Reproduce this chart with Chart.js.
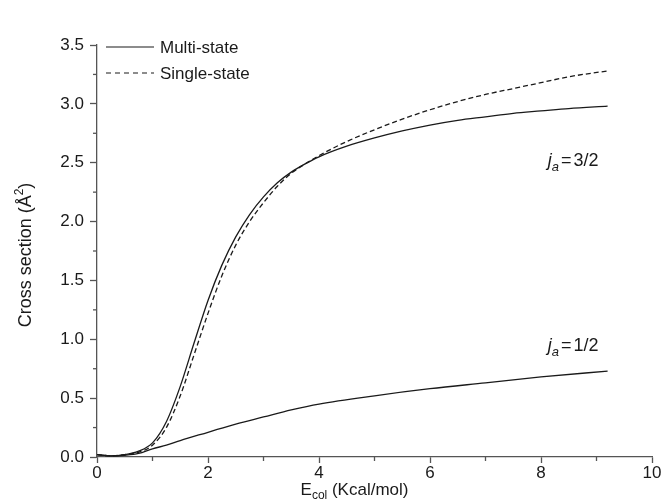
<!DOCTYPE html>
<html>
<head>
<meta charset="utf-8">
<script src="https://cdn.jsdelivr.net/npm/chart.js@4/dist/chart.umd.min.js"></script>
<style>
  html, body { margin: 0; padding: 0; background: #fff; }
  #wrap { width: 666px; height: 500px; }
</style>
</head>
<body>
<div id="wrap"><canvas id="myChart" width="666" height="500"></canvas></div>
<script>
// values
const eUpper = [0, 0.25, 0.5, 0.75, 1.0, 1.25, 1.5, 1.75, 2.0, 2.25, 2.5, 2.75, 3.0, 3.25, 3.5, 3.75, 4.0, 4.5, 5.0, 5.5, 6.0, 6.5, 7.0, 7.5, 8.0, 8.5, 9.2];
const multi32 = [0.02, 0.01, 0.02, 0.05, 0.12, 0.3, 0.6, 0.97, 1.33, 1.63, 1.87, 2.06, 2.21, 2.33, 2.42, 2.49, 2.55, 2.64, 2.71, 2.77, 2.82, 2.86, 2.89, 2.92, 2.94, 2.96, 2.98];
const single32 = [0.02, 0.01, 0.02, 0.04, 0.1, 0.25, 0.52, 0.87, 1.22, 1.54, 1.8, 2.0, 2.16, 2.3, 2.41, 2.49, 2.56, 2.68, 2.78, 2.87, 2.95, 3.02, 3.08, 3.13, 3.18, 3.23, 3.28];

const eLower = [0, 0.25, 0.5, 0.75, 1.0, 1.25, 1.5, 2.0, 2.5, 3.0, 3.5, 4.0, 5.0, 6.0, 7.0, 8.0, 9.2];
const multi12 = [0.02, 0.01, 0.015, 0.03, 0.07, 0.1, 0.14, 0.21, 0.28, 0.34, 0.4, 0.45, 0.52, 0.58, 0.63, 0.68, 0.73];

const xTicks = [0, 2, 4, 6, 8, 10];
const yTicks = [0, 0.5, 1, 1.5, 2, 2.5, 3, 3.5];
const legendNames = ['Multi-state', 'Single-state'];
const notes = [
  {x: 8.12, y: 2.47, val: '3/2'},
  {x: 8.12, y: 0.9, val: '1/2'}
];

const FONT = '"Liberation Sans", Arial, sans-serif';
const INK = '#1a1a1a';

function pts(xs, ys) {
  return xs.map((x, i) => ({x: x, y: ys[i]}));
}

// minor ticks, axis titles, legend and labels
const extras = {
  id: 'extras',
  afterDraw(chart) {
    const ctx = chart.ctx;
    const xs = chart.scales.x, ys = chart.scales.y;
    const area = chart.chartArea;
    ctx.save();
    ctx.strokeStyle = '#555';
    ctx.lineWidth = 1.3;
    // minor ticks
    for (let v = 1; v < 10; v += 2) {
      let px = xs.getPixelForValue(v);
      ctx.beginPath(); ctx.moveTo(px, area.bottom); ctx.lineTo(px, area.bottom + 4); ctx.stroke();
    }
    for (let v = 0.25; v < 3.5; v += 0.5) {
      let py = ys.getPixelForValue(v);
      ctx.beginPath(); ctx.moveTo(area.left, py); ctx.lineTo(area.left - 4, py); ctx.stroke();
    }

    ctx.fillStyle = INK;
    // x title
    ctx.textBaseline = 'alphabetic';
    ctx.font = '17px ' + FONT;
    let cx = (area.left + area.right) / 2 - 20;
    let ty = 495;
    let w1 = ctx.measureText('E').width;
    ctx.font = '12px ' + FONT;
    let w2 = ctx.measureText('col').width;
    ctx.font = '17px ' + FONT;
    let w3 = ctx.measureText(' (Kcal/mol)').width;
    let sx = cx - (w1 + w2 + w3) / 2;
    ctx.textAlign = 'left';
    ctx.fillText('E', sx, ty);
    ctx.font = '12px ' + FONT;
    ctx.fillText('col', sx + w1, ty + 4);
    ctx.font = '17px ' + FONT;
    ctx.fillText(' (Kcal/mol)', sx + w1 + w2, ty);

    // y title
    ctx.save();
    ctx.translate(31, 255);
    ctx.rotate(-Math.PI / 2);
    ctx.font = '18px ' + FONT;
    let a = ctx.measureText('Cross section (Å').width;
    ctx.font = '12px ' + FONT;
    let b = ctx.measureText('2').width;
    ctx.font = '18px ' + FONT;
    let c = ctx.measureText(')').width;
    let s = -(a + b + c) / 2;
    ctx.fillText('Cross section (Å', s, 0);
    ctx.font = '12px ' + FONT;
    ctx.fillText('2', s + a, -8);
    ctx.font = '18px ' + FONT;
    ctx.fillText(')', s + a + b, 0);
    ctx.restore();

    // legend
    const lx = area.left + 9, ly = [area.top + 2, area.top + 28];
    ctx.strokeStyle = INK;
    ctx.lineWidth = 1.2;
    ctx.textBaseline = 'middle';
    ctx.font = '17px ' + FONT;
    legendNames.forEach((name, i) => {
      ctx.setLineDash(i === 1 ? [5, 4] : []);
      ctx.beginPath(); ctx.moveTo(lx, ly[i]); ctx.lineTo(lx + 48, ly[i]); ctx.stroke();
      ctx.setLineDash([]);
      ctx.fillText(name, lx + 54, ly[i] + 1);
    });

    // j_a labels
    notes.forEach(n => {
      let px = xs.getPixelForValue(n.x), py = ys.getPixelForValue(n.y);
      ctx.textBaseline = 'alphabetic';
      ctx.font = 'italic 18px ' + FONT;
      ctx.fillText('j', px, py);
      let wj = ctx.measureText('j').width;
      ctx.font = 'italic 13px ' + FONT;
      ctx.fillText('a', px + wj, py + 5);
      let wa = ctx.measureText('a').width;
      ctx.font = '18px ' + FONT;
      ctx.fillText('=', px + wj + wa + 2, py);
      let we = ctx.measureText('=').width;
      ctx.fillText(n.val, px + wj + wa + we + 4, py);
    });
    ctx.restore();
  }
};

const lineStyle = {
  borderColor: INK,
  borderWidth: 1.3,
  pointRadius: 0,
  fill: false,
  cubicInterpolationMode: 'monotone'
};

new Chart(document.getElementById('myChart'), {
  type: 'line',
  data: {
    datasets: [
      Object.assign({label: legendNames[0], data: pts(eUpper, multi32)}, lineStyle),
      Object.assign({label: legendNames[1], data: pts(eUpper, single32), borderDash: [5, 3]}, lineStyle),
      Object.assign({label: 'j=1/2', data: pts(eLower, multi12)}, lineStyle)
    ]
  },
  options: {
    responsive: false,
    animation: false,
    layout: {padding: {top: 45, right: 14, left: 0, bottom: 0}},
    plugins: {legend: {display: false}, tooltip: {enabled: false}},
    scales: {
      x: {
        type: 'linear',
        min: 0, max: 10,
        afterBuildTicks: (s) => { s.ticks = xTicks.map(v => ({value: v})); },
        afterFit: (s) => { s.height = 43; },
        grid: {drawOnChartArea: false, drawTicks: true, tickLength: 6, color: '#555', tickWidth: 1.3},
        border: {color: '#555', width: 1.3},
        ticks: {color: INK, font: {family: FONT, size: 17}, padding: 0, maxRotation: 0}
      },
      y: {
        min: 0, max: 3.5,
        afterBuildTicks: (s) => { s.ticks = yTicks.map(v => ({value: v})); },
        afterFit: (s) => { s.width = 97; },
        grid: {drawOnChartArea: false, drawTicks: true, tickLength: 7, color: '#555', tickWidth: 1.3},
        border: {color: '#555', width: 1.3},
        ticks: {color: INK, font: {family: FONT, size: 17}, padding: 6, callback: (v) => v.toFixed(1)}
      }
    }
  },
  plugins: [extras]
});
</script>
</body>
</html>
